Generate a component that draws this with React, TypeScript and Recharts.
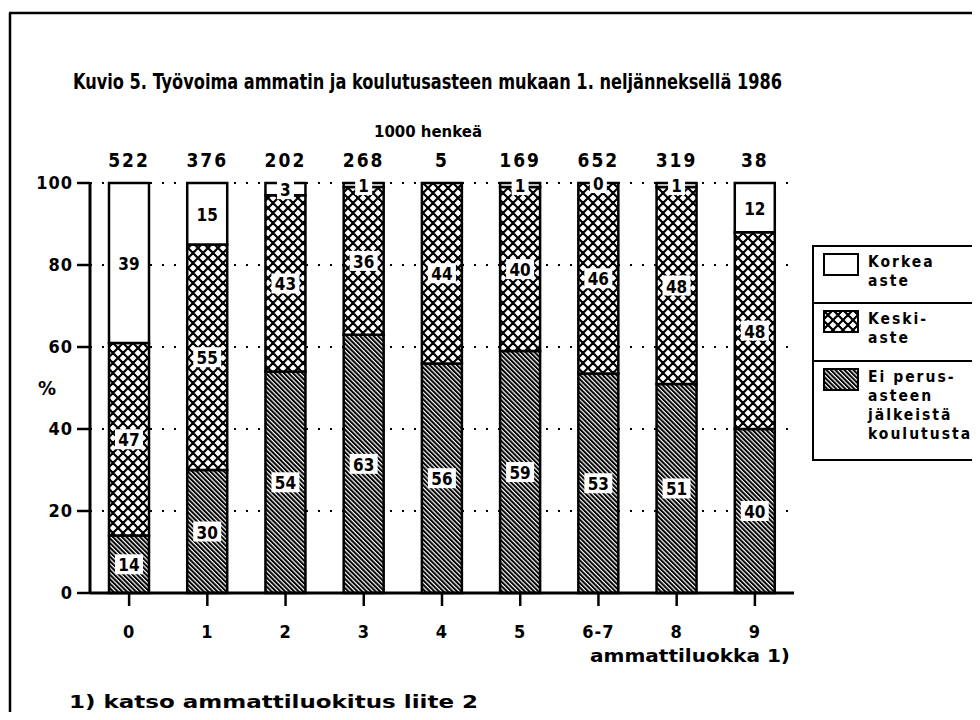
import { Bar, BarChart, CartesianGrid, LabelList, XAxis, YAxis } from 'recharts';

const categories = ['0', '1', '2', '3', '4', '5', '6-7', '8', '9'];
const totals = [522, 376, 202, 268, 5, 169, 652, 319, 38];
const eiPerus = [14, 30, 54, 63, 56, 59, 53, 51, 40];
const keski = [47, 55, 43, 36, 44, 40, 46, 48, 48];
const korkea = [39, 15, 3, 1, 0, 1, 0, 1, 12];
const korkeaShown = [true, true, true, true, false, true, true, true, true];
const yTicks = [0, 0.2, 0.4, 0.6, 0.8, 1];

const FONT = "'DejaVu Sans Condensed', 'DejaVu Sans', sans-serif";
const PLOT_TOP = 175;

const chartData = categories.map((cat, i) => ({
  cat,
  total: totals[i],
  ei: eiPerus[i],
  keski: keski[i],
  korkea: korkea[i],
  korkeaLabel: korkeaShown[i] ? korkea[i] : null,
}));

function Patterns({ prefix }: { prefix: string }) {
  return (
    <defs>
      <pattern id={`${prefix}-cross`} patternUnits="userSpaceOnUse" width={10} height={10}>
        <rect width={10} height={10} fill="#fff" />
        <path d="M0,0 L10,10 M10,0 L0,10 M-5,5 L5,15 M5,-5 L15,5 M5,15 L15,5 M-5,5 L5,-5" stroke="#000" strokeWidth={2.2} />
      </pattern>
      <pattern
        id={`${prefix}-hatch`}
        patternUnits="userSpaceOnUse"
        width={3.2}
        height={3.2}
        patternTransform="rotate(-45)"
      >
        <rect width={3.2} height={3.2} fill="#fff" />
        <rect width={2} height={3.2} fill="#000" />
      </pattern>
    </defs>
  );
}

function labelBox(cx: number, cy: number, value: any) {
  const w = String(value).length * 11 + 6;
  return (
    <g>
      <rect x={cx - w / 2} y={cy - 10} width={w} height={20} fill="#fff" />
      <text
        x={cx}
        y={cy + 1}
        textAnchor="middle"
        dominantBaseline="central"
        fontFamily={FONT}
        fontWeight="bold"
        fontSize={17}
        fill="#000"
      >
        {value}
      </text>
    </g>
  );
}

function SegLabel(props: any) {
  const { x, y, width, height, value } = props;
  if (value === null || value === undefined) return null;
  return labelBox(x + width / 2, y + height / 2, value);
}

// top segment label: the stack always ends at the plot top (expand), so centre it
// between the top of the middle segment and the top of the plot
function TopSegLabel(props: any) {
  const { x, y, width, value } = props;
  if (value === null || value === undefined) return null;
  return labelBox(x + width / 2, (y + PLOT_TOP) / 2, value);
}

function TotalLabel(props: any) {
  const { x, width, value } = props;
  return (
    <text
      x={x + width / 2}
      y={152}
      textAnchor="middle"
      dominantBaseline="central"
      fontFamily={FONT}
      fontWeight="bold"
      fontSize={19}
      letterSpacing={2}
      fill="#000"
    >
      {value}
    </text>
  );
}

const legendRows = [
  { lines: ['Korkea', 'aste'], fill: '#fff', height: 57 },
  { lines: ['Keski-', 'aste'], fill: 'url(#lg-cross)', height: 56 },
  { lines: ['Ei perus-', 'asteen', 'jälkeistä', 'koulutusta'], fill: 'url(#lg-hatch)', height: 97 },
];

function LegendBox() {
  return (
    <div
      style={{
        position: 'absolute',
        left: 804,
        top: 237,
        width: 180,
        border: '2.5px solid #000',
        boxSizing: 'border-box',
        background: '#fff',
      }}
    >
      {legendRows.map((row, i) => (
        <div
          key={i}
          style={{
            position: 'relative',
            height: row.height - (i === 0 ? 2.5 : 0),
            borderTop: i === 0 ? 'none' : '2.5px solid #000',
          }}
        >
          <svg width={36} height={23} style={{ position: 'absolute', left: 9, top: 6 }}>
            <Patterns prefix="lg" />
            <rect x={1} y={1} width={34} height={21} fill={row.fill} stroke="#000" strokeWidth={2} />
          </svg>
          <div
            style={{
              position: 'absolute',
              left: 54,
              top: 6,
              fontFamily: FONT,
              fontWeight: 'bold',
              fontSize: 15.5,
              lineHeight: '19px',
              letterSpacing: 2,
              whiteSpace: 'nowrap',
            }}
          >
            {row.lines.map((l, j) => (
              <div key={j}>{l}</div>
            ))}
          </div>
        </div>
      ))}
    </div>
  );
}

export default function App() {
  return (
    <div style={{ position: 'relative', width: 964, height: 704, background: '#fff' }}>
      <svg
        width={980}
        height={720}
        style={{ position: 'absolute', left: -8, top: -8, pointerEvents: 'none' }}
      >
        <line x1={9} y1={13} x2={980} y2={13} stroke="#000" strokeWidth={2.5} />
        <line x1={10} y1={13} x2={10} y2={720} stroke="#000" strokeWidth={2.5} />
        <text
          x={73}
          y={82}
          dominantBaseline="central"
          fontFamily={FONT}
          fontWeight="bold"
          fontSize={21}
          textLength={709}
          lengthAdjust="spacingAndGlyphs"
        >
          Kuvio 5. Työvoima ammatin ja koulutusasteen mukaan 1. neljänneksellä 1986
        </text>
        <text
          x={374}
          y={131}
          dominantBaseline="central"
          fontFamily={FONT}
          fontWeight="bold"
          fontSize={16}
          textLength={108}
          lengthAdjust="spacingAndGlyphs"
        >
          1000 henkeä
        </text>
        <text
          x={590}
          y={656}
          dominantBaseline="central"
          fontFamily={FONT}
          fontWeight="bold"
          fontSize={17}
          textLength={200}
          lengthAdjust="spacingAndGlyphs"
        >
          ammattiluokka 1)
        </text>
        <text
          x={69}
          y={702}
          dominantBaseline="central"
          fontFamily={FONT}
          fontWeight="bold"
          fontSize={17}
          textLength={409}
          lengthAdjust="spacingAndGlyphs"
        >
          1) katso ammattiluokitus liite 2
        </text>
      </svg>
      <BarChart
        width={964}
        height={704}
        data={chartData}
        stackOffset="expand"
        margin={{ top: PLOT_TOP, right: 178, bottom: 69, left: 0 }}
      >
        <Patterns prefix="ch" />
        <CartesianGrid vertical={false} stroke="#000" strokeWidth={2} strokeDasharray="2 10" />
        <XAxis
          dataKey="cat"
          height={50}
          axisLine={{ stroke: '#000', strokeWidth: 3 }}
          tickLine={{ stroke: '#000', strokeWidth: 2.5 }}
          tickSize={13}
          tickMargin={19}
          tick={{ fill: '#000', fontFamily: FONT, fontWeight: 'bold', fontSize: 18, letterSpacing: 1 }}
        />
        <YAxis
          width={82}
          domain={[0, 1]}
          ticks={yTicks}
          tickFormatter={(v: number) => String(Math.round(v * 100))}
          axisLine={{ stroke: '#000', strokeWidth: 3 }}
          tickLine={{ stroke: '#000', strokeWidth: 2.5 }}
          tickSize={13}
          tickMargin={4}
          tick={{ fill: '#000', fontFamily: FONT, fontWeight: 'bold', fontSize: 18, letterSpacing: 1 }}
          label={{
            value: '%',
            position: 'insideLeft',
            offset: 30,
            style: { fill: '#000', fontFamily: FONT, fontWeight: 'bold', fontSize: 20 },
          }}
        />
        <Bar dataKey="ei" stackId="a" barSize={40} fill="url(#ch-hatch)" stroke="#000" strokeWidth={2.5} isAnimationActive={false}>
          <LabelList dataKey="ei" content={SegLabel} />
          <LabelList dataKey="total" content={TotalLabel} />
        </Bar>
        <Bar dataKey="keski" stackId="a" barSize={40} fill="url(#ch-cross)" stroke="#000" strokeWidth={2.5} isAnimationActive={false}>
          <LabelList dataKey="keski" content={SegLabel} />
          <LabelList dataKey="korkeaLabel" content={TopSegLabel} />
        </Bar>
        <Bar dataKey="korkea" stackId="a" barSize={40} fill="#fff" stroke="#000" strokeWidth={2.5} isAnimationActive={false} />
      </BarChart>
      <LegendBox />
    </div>
  );
}
